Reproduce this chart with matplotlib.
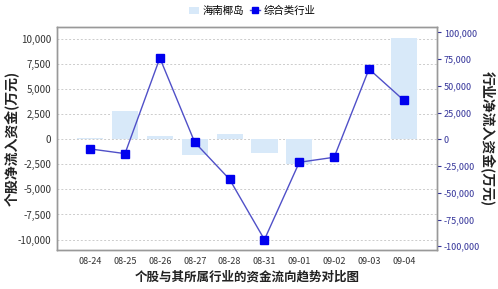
import matplotlib
matplotlib.use("Agg")
import matplotlib.pyplot as plt
from matplotlib.ticker import FuncFormatter

plt.rcParams['font.family'] = ['Noto Sans CJK SC', 'DejaVu Sans']

dates = ["08-24", "08-25", "08-26", "08-27", "08-28", "08-31", "09-01", "09-02", "09-03", "09-04"]
stock_flow = [130, 2820, 330, -1560, 530, -1400, -2460, 0, 0, 10100]
industry_flow = [-9000, -13400, 76000, -2800, -37400, -93800, -21500, -16800, 65700, 36400]
stock_name = "海南椰岛"
industry_name = "综合类行业"
left_ticks = [-10000, -7500, -5000, -2500, 0, 2500, 5000, 7500, 10000]
right_ticks = [-100000, -75000, -50000, -25000, 0, 25000, 50000, 75000, 100000]

fig = plt.figure(figsize=(4.98, 2.89), dpi=100)
ax = fig.add_axes([0.1145, 0.135, 0.763, 0.7716])
ax2 = ax.twinx()

x = list(range(len(dates)))
ax.bar(x, stock_flow, width=0.75, color="#d8e9f9", zorder=1, label=stock_name)
ax.set_ylim(-11040, 11200)
ax.set_xlim(-0.95, 9.95)
ax.set_yticks(left_ticks)
ax.yaxis.set_major_formatter(FuncFormatter(lambda v, p: f"{int(v):,}"))
ax.set_xticks(x)
ax.set_xticklabels(dates)
ax.grid(axis='y', color="#cccccc", linestyle=(0, (2, 2)), linewidth=0.7, zorder=0)
ax.set_axisbelow(True)

ax2.plot(x, industry_flow, color="#5050c8", linewidth=1.0, marker='s', markersize=5.5,
         markerfacecolor="#0000ee", markeredgecolor="#0000ee", label=industry_name, zorder=3)
ax2.set_ylim(-103500, 105000)
ax2.set_yticks(right_ticks)
ax2.yaxis.set_major_formatter(FuncFormatter(lambda v, p: f"{int(v):,}"))

for a in (ax, ax2):
    for s in a.spines.values():
        s.set_color("#999999")
        s.set_linewidth(1.0)

ax.tick_params(axis='y', labelsize=7, colors="#333333", length=0, pad=4)
ax.tick_params(axis='x', labelsize=6.5, colors="#333333", length=0, pad=5)
ax2.tick_params(axis='y', labelsize=6.5, colors="#333399", length=3, direction='out', pad=2)
for lbl in ax2.get_yticklabels():
    lbl.set_color("#333399")

ax.set_ylabel("个股净流入资金(万元)", fontsize=10, fontweight='bold', color="#222222")
ax.yaxis.set_label_coords(-0.099, 0.5)
ax2.set_ylabel("行业净流入资金(万元)", fontsize=10, fontweight='bold', color="#222222", rotation=-90, labelpad=11)
ax.set_xlabel("个股与其所属行业的资金流向趋势对比图", fontsize=9, fontweight='bold', color="#222222", labelpad=3)

h1, l1 = ax.get_legend_handles_labels()
h2, l2 = ax2.get_legend_handles_labels()
fig.legend(h1 + h2, l1 + l2, loc='center', bbox_to_anchor=(0.506, 0.962), ncol=2, frameon=False,
           fontsize=7.5, handlelength=1.0, handletextpad=0.3, columnspacing=0.6, markerscale=0.8)

fig.savefig("out.png", dpi=100, facecolor="white")
